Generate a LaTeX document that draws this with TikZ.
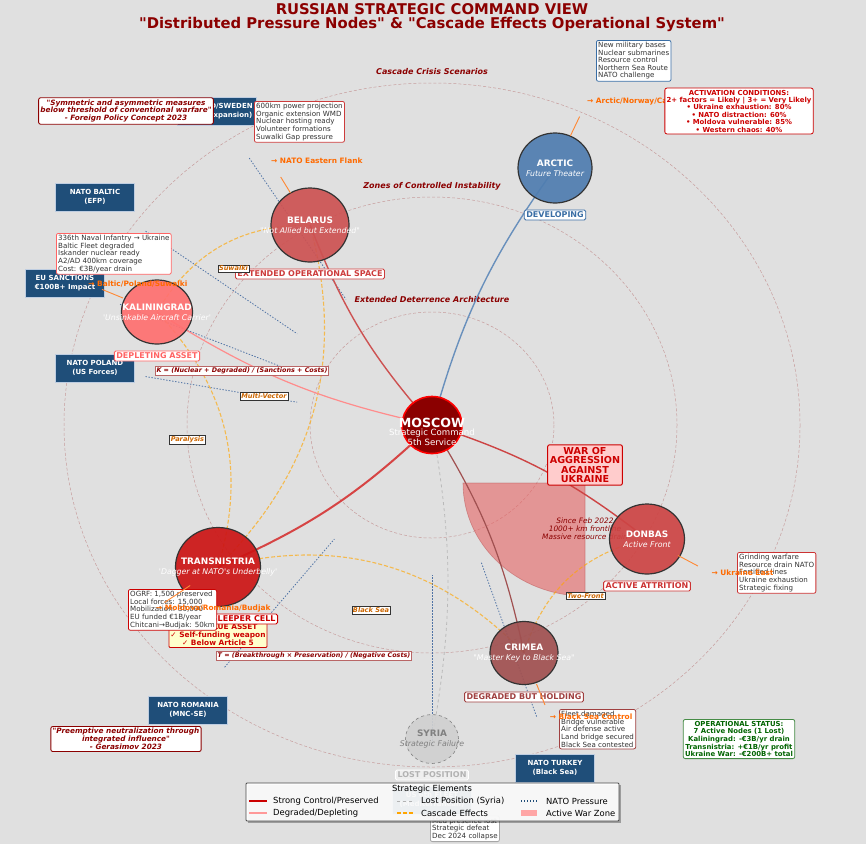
\documentclass[tikz,border=0pt]{standalone}
\usepackage{fontspec}
\setmainfont{DejaVu Sans}[Ligatures=TeXOff]
\usetikzlibrary{shapes.geometric,calc,backgrounds}

\definecolor{bgcol}{RGB}{224,224,224}
\definecolor{titlered}{RGB}{139,0,0}
\definecolor{natoblue}{RGB}{31,78,121}
\definecolor{natoedge}{RGB}{190,205,225}
\definecolor{edgegray}{RGB}{51,51,51}
\definecolor{arccol}{RGB}{79,125,176}
\definecolor{belcol}{RGB}{205,82,82}
\definecolor{kalcol}{RGB}{255,112,112}
\definecolor{trancol}{RGB}{204,21,21}
\definecolor{doncol}{RGB}{205,68,68}
\definecolor{crimcol}{RGB}{160,80,80}
\definecolor{syrcol}{RGB}{208,208,208}
\definecolor{cascorange}{RGB}{255,165,0}
\definecolor{dirorange}{RGB}{255,106,0}
\definecolor{casctext}{RGB}{204,102,0}
\definecolor{infotext}{RGB}{51,51,51}
\definecolor{devblue}{RGB}{58,110,165}
\definecolor{belred}{RGB}{205,60,60}
\definecolor{kalred}{RGB}{255,100,100}
\definecolor{attred}{RGB}{204,51,51}
\definecolor{crimtext}{RGB}{160,64,64}
\definecolor{warred}{RGB}{204,0,0}
\definecolor{warpink}{RGB}{255,204,204}
\definecolor{zonefill}{RGB}{230,100,100}
\definecolor{assetyellow}{RGB}{255,255,204}
\definecolor{statgreen}{RGB}{0,100,0}
\definecolor{statedge}{RGB}{70,140,70}
\definecolor{pressblue}{RGB}{80,115,165}

\tikzset{
  region/.style={ellipse, inner sep=0pt, draw=edgegray, line width=1.2pt, fill opacity=0.92},
  nodelbl/.style={align=center, text=white, font=\fontsize{7.8}{10}\selectfont},
  statebox/.style={fill=white, rounded corners=1.5pt, line width=0.9pt, inner sep=2pt, font=\fontsize{8}{9}\selectfont\bfseries},
  infobox/.style={fill=white, rounded corners=2pt, line width=0.8pt, inner sep=1.8pt, align=left, text=infotext, font=\fontsize{7.1}{7.6}\selectfont},
  natobox/.style={fill=natoblue, draw=natoedge, line width=0.6pt, minimum width=79pt, minimum height=28pt, inner sep=1pt, align=center, text=white, font=\fontsize{7}{8.6}\selectfont\bfseries},
  quotebox/.style={fill=white, draw=titlered, rounded corners=2pt, line width=0.9pt, inner sep=1.8pt, align=center, text=titlered, font=\fontsize{7.3}{7.9}\selectfont\bfseries\itshape},
  casclbl/.style={fill=white, draw=black!80, line width=0.5pt, inner sep=1.2pt, text=casctext, font=\fontsize{6.6}{7}\selectfont\bfseries\itshape},
  formula/.style={fill=white, draw=titlered!60, line width=0.5pt, inner sep=1.2pt, text=titlered, font=\fontsize{6.4}{7}\selectfont\bfseries\itshape},
  dirline/.style={draw=dirorange!80, line width=0.9pt},
  dirlbl/.style={anchor=west, inner sep=0pt, text=dirorange, font=\fontsize{7.4}{8}\selectfont\bfseries},
  zonelbl/.style={text=titlered, font=\fontsize{8}{9}\selectfont\bfseries\itshape},
  ring/.style={draw=titlered, draw opacity=0.3, dash pattern=on 3pt off 2pt, line width=0.5pt},
  cascade/.style={draw=cascorange, draw opacity=0.65, dash pattern=on 4pt off 2pt, line width=1.1pt},
  pressure/.style={draw=pressblue, dash pattern=on 1.4pt off 1.6pt, line width=0.8pt},
  hublink/.style={line width=1.4pt},
  legtext/.style={anchor=west, inner sep=0pt, font=\fontsize{8.4}{9}\selectfont}
}

\begin{document}
\begin{tikzpicture}[x=1pt,y=-1pt]
\useasboundingbox (0,0) rectangle (866,844);

% title
\node[text=titlered, font=\fontsize{14.8}{16}\selectfont\bfseries] (title) at (432,9) {RUSSIAN STRATEGIC COMMAND VIEW};
\node[text=titlered, font=\fontsize{14.8}{16}\selectfont\bfseries] (subtitle) at (432,24) {"Distributed Pressure Nodes" \& "Cascade Effects Operational System"};

% nodes
\node[ellipse, inner sep=0pt, fill=titlered, draw=red, line width=1.6pt, minimum width=60pt, minimum height=57pt] (moscow) at (432,425) {};
\node[region, fill=arccol, minimum width=74pt, minimum height=70pt] (arctic) at (555,168) {};
\node[region, fill=belcol, minimum width=78pt, minimum height=74pt] (belarus) at (310,225) {};
\node[region, fill=kalcol, minimum width=71pt, minimum height=64pt] (kaliningrad) at (157,312) {};
\node[region, fill=trancol, minimum width=85pt, minimum height=79pt] (transnistria) at (218,567) {};
\node[region, fill=doncol, minimum width=75pt, minimum height=70pt] (donbas) at (647,539) {};
\node[region, fill=crimcol, minimum width=68pt, minimum height=63pt] (crimea) at (524,653) {};
\node[region, fill=syrcol, draw=gray, dashed, line width=0.6pt, minimum width=53pt, minimum height=49pt] (syria) at (432,739) {};

\node[nodelbl, font=\fontsize{8.6}{8}\selectfont] (moscowlbl) at (432,432) {{\fontsize{12.6}{8}\selectfont\bfseries MOSCOW}\\Strategic Command\\5th Service};
\node[nodelbl] (arcticlbl) at (arctic) {{\fontsize{8.9}{10}\selectfont\bfseries ARCTIC}\\{\itshape Future Theater}};
\node[nodelbl] (belaruslbl) at (belarus) {{\fontsize{8.9}{10}\selectfont\bfseries BELARUS}\\{\itshape "Not Allied but Extended"}};
\node[nodelbl] (kalininglbl) at (kaliningrad) {{\fontsize{8.9}{10}\selectfont\bfseries KALININGRAD}\\{\itshape 'Unsinkable Aircraft Carrier'}};
\node[nodelbl] (transnislbl) at (transnistria) {{\fontsize{8.9}{10}\selectfont\bfseries TRANSNISTRIA}\\{\itshape 'Dagger at NATO's Underbelly'}};
\node[nodelbl] (donbaslbl) at (donbas) {{\fontsize{8.9}{10}\selectfont\bfseries DONBAS}\\{\itshape Active Front}};
\node[nodelbl] (crimealbl) at (crimea) {{\fontsize{8.9}{10}\selectfont\bfseries CRIMEA}\\{\itshape "Master Key to Black Sea"}};
\node[nodelbl, text=gray] (syrialbl) at (syria) {{\fontsize{8.9}{10}\selectfont\bfseries SYRIA}\\{\itshape Strategic Failure}};

% NATO and pressure boxes
\node[natobox] (nsweden) at (217,111) {FINLAND/SWEDEN\\(NATO Expansion)};
\node[natobox] (nbaltic) at (95,197) {NATO BALTIC\\(EFP)};
\node[natobox] (eusanc) at (65,283) {EU SANCTIONS\\€100B+ Impact};
\node[natobox] (npoland) at (95,368) {NATO POLAND\\(US Forces)};
\node[natobox] (nromania) at (188,710) {NATO ROMANIA\\(MNC-SE)};
\node[natobox] (nturkey) at (555,768) {NATO TURKEY\\(Black Sea)};
\node[natobox] (nfleet) at (432,800) {US 6th FLEET\\(Mediterranean)};

% state boxes
\node[statebox, draw=devblue, text=devblue] (arcticstate) at (555,215) {DEVELOPING};
\node[statebox, draw=belred, text=belred] (belarusstate) at (310,274) {EXTENDED OPERATIONAL SPACE};
\node[statebox, draw=kalred, text=kalred] (kalstate) at (157,356) {DEPLETING ASSET};
\node[fill=assetyellow, draw=warred, line width=0.8pt, rounded corners=1pt, inner sep=1.5pt, align=center, text=warred, font=\fontsize{7.4}{8.2}\selectfont\bfseries] (transasset) at (218,635) {HIGH VALUE ASSET\\✓ Self-funding weapon\\✓ Below Article 5};
\node[statebox, draw=warred, text=warred, anchor=east] (transstate) at (278,619) {GROWING SLEEPER CELL};
\node[statebox, draw=attred, text=attred] (donstate) at (647,586) {ACTIVE ATTRITION};
\node[statebox, draw=crimtext, text=crimtext] (crimstate) at (524,697) {DEGRADED BUT HOLDING};
\node[statebox, draw=white, fill opacity=0.5, text opacity=1, text=gray!60] (syriastate) at (432,775) {LOST POSITION};

\node[fill=warpink, draw=warred, line width=1pt, rounded corners=2pt, inner sep=2.2pt, align=center, text=warred, font=\fontsize{9.6}{9.6}\selectfont\bfseries] (warbox) at (585,465) {WAR OF\\AGGRESSION\\AGAINST\\UKRAINE};

% cascade labels
\node[casclbl] (lblsuwalki) at ($(kaliningrad)!0.5!(belarus)$) {Suwalki};
\node[casclbl] (lblmulti) at ($(belarus)!0.5!(transnistria)$) {Multi-Vector};
\node[casclbl] (lblparalysis) at ($(kaliningrad)!0.5!(transnistria)$) {Paralysis};
\node[casclbl] (lblblacksea) at ($(transnistria)!0.5!(crimea)$) {Black Sea};
\node[casclbl] (lbltwofront) at ($(crimea)!0.5!(donbas)$) {Two-Front};
\node[formula] (kformula) at (242,371) {K = (Nuclear + Degraded) / (Sanctions + Costs)};
\node[formula] (tformula) at (314,656) {T = (Breakthrough × Preservation) / (Negative Costs)};

% info boxes
\node[infobox, draw=devblue, anchor=north west] (arcticinfo) at (596,40) {New military bases\\Nuclear submarines\\Resource control\\Northern Sea Route\\NATO challenge};
\node[infobox, draw=belred, anchor=north west] (belarusinfo) at (254,101) {600km power projection\\Organic extension WMD\\Nuclear hosting ready\\Volunteer formations\\Suwalki Gap pressure};
\node[infobox, draw=kalred, anchor=north west] (kalinfo) at (56,233) {336th Naval Infantry → Ukraine\\Baltic Fleet degraded\\Iskander nuclear ready\\A2/AD 400km coverage\\Cost: €3B/year drain};
\node[infobox, draw=warred, anchor=north west] (transinfo) at (128,589) {OGRF: 1,500 preserved\\Local forces: 15,000\\Mobilization: 30,000\\EU funded €1B/year\\Chitcani→Budjak: 50km};
\node[infobox, draw=attred, anchor=north west] (doninfo) at (737,552) {Grinding warfare\\Resource drain NATO\\Fortified lines\\Ukraine exhaustion\\Strategic fixing};
\node[infobox, draw=crimtext, anchor=north west] (criminfo) at (559,709) {Fleet damaged\\Bridge vulnerable\\Air defense active\\Land bridge secured\\Black Sea contested};
\node[infobox, draw=gray!70, anchor=south west] (syriainfo) at (430,842) {Med presence lost\\Strategic defeat\\Dec 2024 collapse};

% outward directions
\draw[dirline] ($(moscow)!1.125!(arctic)$) -- ($(moscow)!1.2!(arctic)$);
\draw[dirline] ($(moscow)!1.16!(belarus)$) -- ($(moscow)!1.24!(belarus)$);
\draw[dirline] ($(moscow)!1.124!(kaliningrad)$) -- ($(moscow)!1.2!(kaliningrad)$);
\draw[dirline] ($(moscow)!1.13!(transnistria)$) -- ($(moscow)!1.25!(transnistria)$);
\draw[dirline] ($(moscow)!1.144!(donbas)$) -- ($(moscow)!1.237!(donbas)$);
\draw[dirline] ($(moscow)!1.136!(crimea)$) -- ($(moscow)!1.228!(crimea)$);
\node[dirlbl] (arcticdir) at ($(moscow)!1.26!(arctic)$) {→ Arctic/Norway/Canada};
\node[dirlbl] (belarusdir) at ($(moscow)!1.32!(belarus)$) {→ NATO Eastern Flank};
\node[dirlbl] (kaldir) at ($(moscow)!1.25!(kaliningrad)$) {→ Baltic/Poland/Suwalki};
\node[dirlbl] (transdir) at ($(moscow)!1.29!(transnistria)$) {→ Moldova/Romania/Budjak};
\node[dirlbl] (dondir) at ($(moscow)!1.3!(donbas)$) {→ Ukraine East};
\node[dirlbl] (crimdir) at ($(moscow)!1.28!(crimea)$) {→ Black Sea Control};

% quotes and status
\node[quotebox] (quotefp) at (126,111) {"Symmetric and asymmetric measures\\below threshold of conventional warfare"\\- Foreign Policy Concept 2023};
\node[quotebox] (quotegen) at (126,739) {"Preemptive neutralization through\\integrated influence"\\- Gerasimov 2023};
\node[fill=white, draw=warred, rounded corners=2pt, line width=0.8pt, inner sep=1.8pt, align=center, text=warred, font=\fontsize{6.9}{7.4}\selectfont\bfseries] (activation) at (739,111) {ACTIVATION CONDITIONS:\\2+ factors = Likely | 3+ = Very Likely\\• Ukraine exhaustion: 80\%\\• NATO distraction: 60\%\\• Moldova vulnerable: 85\%\\• Western chaos: 40\%};
\node[fill=white, draw=statedge, rounded corners=2pt, line width=0.8pt, inner sep=1.8pt, align=center, text=statgreen, font=\fontsize{6.9}{7.6}\selectfont\bfseries] (opstatus) at (739,739) {OPERATIONAL STATUS:\\7 Active Nodes (1 Lost)\\Kaliningrad: -€3B/yr drain\\Transnistria: +€1B/yr profit\\Ukraine War: -€200B+ total};

% legend
\fill[black, opacity=0.3] (248,785) rectangle (621,823);
\draw[fill=white, fill opacity=0.92, draw=black!70, line width=0.8pt, rounded corners=1pt] (246,783) rectangle (619,821);
\node[font=\fontsize{8.4}{9}\selectfont, inner sep=0pt] (legtitle) at (432,789) {Strategic Elements};
\draw[warred, line width=2pt] (249,801) -- (267,801);
\draw[red!40, line width=2pt] (249,813) -- (267,813);
\draw[gray!60, dashed, line width=0.8pt] (397,801) -- (413,801);
\draw[cascorange, dash pattern=on 4pt off 2pt, line width=1.8pt] (397,813) -- (413,813);
\draw[natoblue, dash pattern=on 1.4pt off 1.6pt, line width=1.2pt] (521,801) -- (537,801);
\fill[red!35] (521,810) rectangle (537,816);
\node[legtext] (legstrong) at (273,801) {Strong Control/Preserved};
\node[legtext] (legdegraded) at (273,813) {Degraded/Depleting};
\node[legtext] (leglost) at (421,801) {Lost Position (Syria)};
\node[legtext] (legcascade) at (421,813) {Cascade Effects};
\node[legtext] (legnato) at (546,801) {NATO Pressure};
\node[legtext] (legwar) at (546,813) {Active War Zone};

\begin{pgfonlayer}{background}
\fill[bgcol] (0,0) rectangle (866,844);
% rings
\draw[ring] (moscow.center) ellipse [x radius=122, y radius=113];
\draw[ring] (moscow.center) ellipse [x radius=245, y radius=228];
\draw[ring] (moscow.center) ellipse [x radius=368, y radius=342];
\node[zonelbl] (zoneouter) at (432,72) {Cascade Crisis Scenarios};
\node[zonelbl] (zonemiddle) at (432,186) {Zones of Controlled Instability};
\node[zonelbl] (zoneinner) at (432,300) {Extended Deterrence Architecture};

% war zone
\fill[fill=zonefill, fill opacity=0.6] (585,483) -- (463,483) arc[start angle=180, end angle=90, x radius=122, y radius=113] -- cycle;
\draw[draw=zonefill!80!black, draw opacity=0.5, line width=0.6pt] (585,483) -- (463,483) arc[start angle=180, end angle=90, x radius=122, y radius=113] -- cycle;
\node[align=center, text=titlered, font=\fontsize{7.4}{8}\selectfont\itshape] (wartext) at (585,529) {Since Feb 2022\\1000+ km frontline\\Massive resource drain};

% pressure lines
\draw[pressure] ($(nsweden)!0.15!(moscow)$) -- ($(nsweden)!0.6!(moscow)$);
\draw[pressure] ($(nbaltic)!0.15!(moscow)$) -- ($(nbaltic)!0.6!(moscow)$);
\draw[pressure] ($(eusanc)!0.15!(moscow)$) -- ($(eusanc)!0.6!(moscow)$);
\draw[pressure] ($(npoland)!0.15!(moscow)$) -- ($(npoland)!0.6!(moscow)$);
\draw[pressure] ($(nromania)!0.15!(moscow)$) -- ($(nromania)!0.6!(moscow)$);
\draw[pressure] ($(nturkey)!0.15!(moscow)$) -- ($(nturkey)!0.6!(moscow)$);
\draw[pressure] ($(nfleet)!0.15!(moscow)$) -- ($(nfleet)!0.6!(moscow)$);

% cascade effects
\draw[cascade] (kaliningrad.center) to[bend left=30] (belarus.center);
\draw[cascade] (kaliningrad.center) to[bend left=30] (transnistria.center);
\draw[cascade] (belarus.center) to[bend left=30] (transnistria.center);
\draw[cascade] (transnistria.center) to[bend left=30] (crimea.center);
\draw[cascade] (crimea.center) to[bend left=30] (donbas.center);

% command links
\draw[hublink, draw=arccol!85!white] (moscow.center) to[bend left=10] (arctic.center);
\draw[hublink, draw=belcol] (moscow.center) to[bend left=10] (belarus.center);
\draw[hublink, draw=red!45, line width=1.2pt] (moscow.center) to[bend left=10] (kaliningrad.center);
\draw[hublink, draw=trancol!80!white, line width=2pt] (moscow.center) to[bend left=10] (transnistria.center);
\draw[hublink, draw=doncol] (moscow.center) to[bend left=10] (donbas.center);
\draw[hublink, draw=crimcol, line width=1.2pt] (moscow.center) to[bend left=10] (crimea.center);
\draw[draw=gray, draw opacity=0.4, dashed, line width=0.8pt] (moscow.center) to[bend left=10] (syria.center);
\end{pgfonlayer}
\end{tikzpicture}
\end{document}
